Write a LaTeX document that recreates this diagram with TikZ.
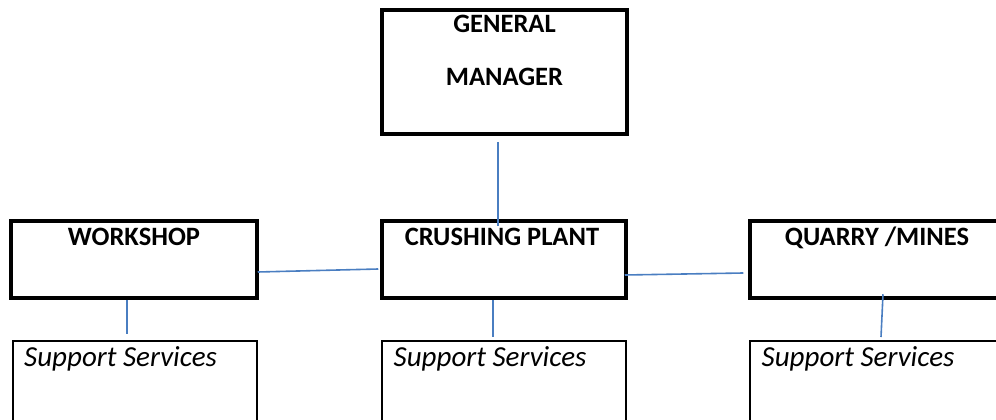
\documentclass[tikz,border=0pt]{standalone}
\usepackage{fontspec}
\setmainfont{Carlito}
\usetikzlibrary{positioning}

\definecolor{linkblue}{RGB}{74,126,193}

\begin{document}
\begin{tikzpicture}[x=1pt,y=-1pt,
  headbox/.style={draw=black,line width=3.5pt,inner sep=0pt},
  subbox/.style={draw=black,line width=2pt,inner sep=0pt},
  title/.style={font=\bfseries\fontsize{26.5}{31}\selectfont,inner sep=0pt,anchor=base},
  subtitle/.style={font=\itshape\fontsize{29}{34}\selectfont,inner sep=0pt,anchor=base west},
  link/.style={draw=linkblue,line width=1.6pt}]
\clip (0,0) rectangle (996,420);

% top of the chart
\node[headbox,minimum width=245,minimum height=124] (gm) at (504.5,72) {};
\node[title] (gmone) at ([yshift=-24.5pt]gm.north) {GENERAL};
\node[title] (gmtwo) at ([yshift=-77pt]gm.north) {MANAGER};

% middle row
\node[headbox,minimum width=246,minimum height=77] (shop) at (134,259.5) {};
\node[headbox,minimum width=244,minimum height=77] (crush) at (504,259.5) {};
\node[headbox,minimum width=254,minimum height=77] (quarry) at (877,259.5) {};
\node[title] (shoptext) at ([yshift=-26.5pt]shop.north) {WORKSHOP};
\node[title] (crushtext) at ([xshift=-2pt,yshift=-26.5pt]crush.north) {CRUSHING PLANT};
\node[title] (quarrytext) at ([yshift=-26.5pt]quarry.north) {QUARRY /MINES};

% support services, cut by the page edge
\node[subbox,minimum width=244.5,minimum height=119] (shopsup) at (134.75,400.5) {};
\node[subbox,minimum width=244,minimum height=119] (crushsup) at (504,400.5) {};
\node[subbox,minimum width=254,minimum height=119] (quarrysup) at (877,400.5) {};
\foreach \b in {shopsup,crushsup,quarrysup}{
  \node[subtitle] (\b text) at ([xshift=12.5pt,yshift=-26.5pt]\b.north west) {Support Services};
}

% connectors
\draw[link] ([xshift=-6.5pt,yshift=-6pt]gm.south) -- ([xshift=-6pt,yshift=-7pt]crush.north);
\draw[link] ([xshift=-1pt,yshift=-12.5pt]shop.east) -- ([xshift=-2pt,yshift=-9.5pt]crush.west);
\draw[link] ([xshift=-3pt,yshift=-15.5pt]crush.east) -- ([xshift=-5pt,yshift=-13.5pt]quarry.west);
\draw[link] ([xshift=-7pt]shop.south) -- ([xshift=-7.75pt,yshift=6pt]shopsup.north);
\draw[link] ([xshift=-11pt]crush.south) -- ([xshift=-11pt,yshift=3pt]crushsup.north);
\draw[link] ([xshift=6pt,yshift=5.5pt]quarry.south) -- ([xshift=4pt,yshift=3pt]quarrysup.north);
\end{tikzpicture}
\end{document}
